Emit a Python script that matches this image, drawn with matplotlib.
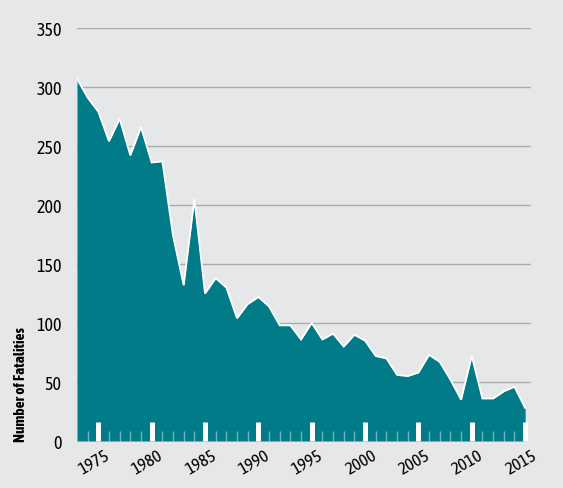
import matplotlib
matplotlib.use("Agg")
import matplotlib.pyplot as plt
import matplotlib.transforms as mtransforms
from matplotlib import font_manager as fm

years = list(range(1973, 2016))
fatalities = [307, 291, 279, 254, 273, 242, 266, 236, 237, 174,
              132, 205, 125, 138, 130, 104, 116, 122, 114, 98,
              98, 86, 100, 86, 91, 80, 90, 85, 72, 70,
              56, 55, 58, 73, 67, 52, 35, 72, 36, 36,
              42, 46, 28]
major_years = [1975, 1980, 1985, 1990, 1995, 2000, 2005, 2010, 2015]
y_ticks = [0, 50, 100, 150, 200, 250, 300, 350]
y_label = "Number of Fatalities"

names = {f.name for f in fm.fontManager.ttflist}
fam = [n for n in ["Asap Condensed", "Liberation Sans Narrow"] if n in names] + ["DejaVu Sans"]
plt.rcParams["font.family"] = fam

BG = "#e6e7e8"
TEAL = "#007b87"

fig = plt.figure(figsize=(5.63, 4.89), dpi=100, facecolor=BG)
W, H = 563, 489
ax = fig.add_axes([77 / W, 1 - 442 / H, (531 - 77) / W, (442 - 29) / H])
ax.set_facecolor(BG)
ax.set_xlim(1973, 2015.55)
ax.set_ylim(0, 350)

for v in y_ticks[1:]:
    ax.axhline(v, color="#a9aaac", lw=1.0, zorder=0.5)

ax.fill_between(years, fatalities, 0, color=TEAL, lw=0, zorder=1)
ax.plot(years, fatalities, color="white", lw=1.3, zorder=1.5,
        solid_joinstyle="miter")

for s in ax.spines.values():
    s.set_visible(False)

ax.set_xticks(major_years)
ax.set_xticks(years[1:], minor=True)
ax.set_yticks(y_ticks)
ax.tick_params(axis="x", which="major", direction="in", length=13.7,
               width=3.6, color="white", pad=4, labelsize=12.5, labelrotation=30)
ax.tick_params(axis="x", which="minor", direction="in", length=7.2,
               width=1.0, color=(1, 1, 1, 0.45))
ax.tick_params(axis="y", length=0, pad=11, labelsize=13)
offset = mtransforms.ScaledTranslation(-4 / 100, 0, fig.dpi_scale_trans)
for lab in ax.get_xticklabels():
    lab.set_ha("center")
    lab.set_transform(lab.get_transform() + offset)

fig.text(21 / W, 1 - 385 / H, y_label, rotation=90, ha="center", va="center",
         fontsize=11, fontweight="bold")

fig.savefig("out.png", dpi=100, facecolor=BG)
